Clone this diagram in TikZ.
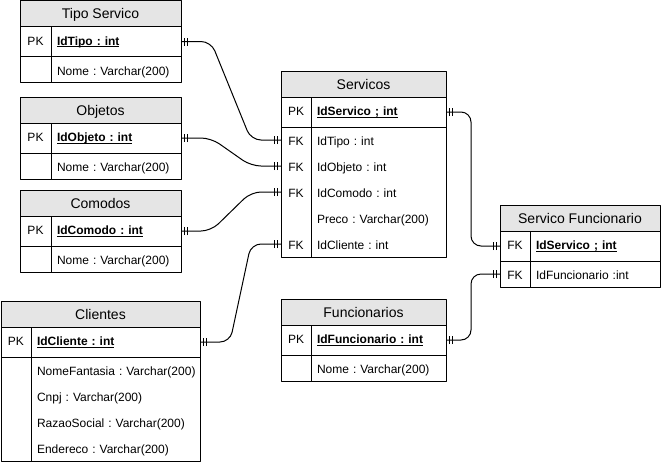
\documentclass[tikz,border=0pt]{standalone}
\usepackage{fontspec}
\setmainfont{Liberation Sans}
\usetikzlibrary{decorations.markings}
\newsavebox\keybox
\newcommand\keyfield[1]{\sbox\keybox{\bfseries #1}\rlap{\rule[-1.8pt]{\wd\keybox}{0.8pt}}\usebox\keybox}
\frenchspacing
\begin{document}
\begin{tikzpicture}[x=1pt,y=-1pt,line width=1pt,line join=round,
font=\fontsize{12}{14}\selectfont,
every node/.style={outer sep=0pt},
hdr/.style={draw,fill=gray!20,anchor=north west,minimum height=26pt,inner sep=0pt,
  font=\fontsize{14}{16}\selectfont,text height=10pt,text depth=0pt},
keyc/.style={anchor=north west,minimum width=#1,inner sep=0pt},
fldc/.style={anchor=north west,text width=#1,align=left,inner xsep=6pt,inner ysep=0pt},
pkrow/.style={minimum height=30pt,text height=8.5pt,text depth=1.5pt},
row/.style={minimum height=26pt,text height=11.5pt,text depth=0pt},
rel/.style={rounded corners=10pt,postaction={decorate,decoration={markings,
  mark=at position 3.5pt with {\draw[line width=1pt] (0,-4pt)--(0,4pt);},
  mark=at position 6.5pt with {\draw[line width=1pt] (0,-4pt)--(0,4pt);},
  mark=at position -3.5pt with {\draw[line width=1pt] (0,-4pt)--(0,4pt);},
  mark=at position -6.5pt with {\draw[line width=1pt] (0,-4pt)--(0,4pt);}}}}]
\useasboundingbox (0,0) rectangle (661,464);
% Tipo Servico
\node[hdr,minimum width=161pt] (tipo) at (20,0.5) {Tipo Servico};
\node[keyc=31pt,pkrow,draw] (tipo-k) at (tipo.south west) {PK};
\node[fldc=118pt,pkrow,draw] (tipo-id) at (tipo-k.north east) {\keyfield{IdTipo : int}};
\node[keyc=31pt,row,draw] (tipo-k2) at (tipo-k.south west) {};
\node[fldc=118pt,row,draw] (tipo-nome) at (tipo-k2.north east) {Nome : Varchar(200)};
% Objetos
\node[hdr,minimum width=161pt] (obj) at (20,97) {Objetos};
\node[keyc=31pt,pkrow,draw] (obj-k) at (obj.south west) {PK};
\node[fldc=118pt,pkrow,draw] (obj-id) at (obj-k.north east) {\keyfield{IdObjeto : int}};
\node[keyc=31pt,row,draw] (obj-k2) at (obj-k.south west) {};
\node[fldc=118pt,row,draw] (obj-nome) at (obj-k2.north east) {Nome : Varchar(200)};
% Comodos
\node[hdr,minimum width=161pt] (com) at (20,190) {Comodos};
\node[keyc=31pt,pkrow,draw] (com-k) at (com.south west) {PK};
\node[fldc=118pt,pkrow,draw] (com-id) at (com-k.north east) {\keyfield{IdComodo : int}};
\node[keyc=31pt,row,draw] (com-k2) at (com-k.south west) {};
\node[fldc=118pt,row,draw] (com-nome) at (com-k2.north east) {Nome : Varchar(200)};
% Clientes
\node[hdr,minimum width=199pt] (cli) at (1,301) {Clientes};
\node[keyc=30pt,pkrow,draw] (cli-k) at (cli.south west) {PK};
\node[fldc=157pt,pkrow,draw] (cli-id) at (cli-k.north east) {\keyfield{IdCliente : int}};
\node[keyc=30pt,row] (cli-k2) at (cli-k.south west) {};
\node[fldc=157pt,row] (cli-nome) at (cli-k2.north east) {\mbox{NomeFantasia : Varchar(200)}};
\node[keyc=30pt,row] (cli-k3) at (cli-k2.south west) {};
\node[fldc=157pt,row] (cli-cnpj) at (cli-k3.north east) {Cnpj : Varchar(200)};
\node[keyc=30pt,row] (cli-k4) at (cli-k3.south west) {};
\node[fldc=157pt,row] (cli-razao) at (cli-k4.north east) {RazaoSocial : Varchar(200)};
\node[keyc=30pt,row] (cli-k5) at (cli-k4.south west) {};
\node[fldc=157pt,row] (cli-end) at (cli-k5.north east) {Endereco : Varchar(200)};
\draw (cli-k2.north west) rectangle (cli-end.south east);
\draw (cli-k2.north east) -- (cli-k5.south east);
% Servicos
\node[hdr,minimum width=165pt] (serv) at (281,71) {Servicos};
\node[keyc=30pt,pkrow,draw] (serv-k) at (serv.south west) {PK};
\node[fldc=123pt,pkrow,draw] (serv-id) at (serv-k.north east) {\keyfield{IdServico ; int}};
\node[keyc=30pt,row] (serv-fk1) at (serv-k.south west) {FK};
\node[fldc=123pt,row] (serv-tipo) at (serv-fk1.north east) {IdTipo : int};
\node[keyc=30pt,row] (serv-fk2) at (serv-fk1.south west) {FK};
\node[fldc=123pt,row] (serv-obj) at (serv-fk2.north east) {IdObjeto : int};
\node[keyc=30pt,row] (serv-fk3) at (serv-fk2.south west) {FK};
\node[fldc=123pt,row] (serv-com) at (serv-fk3.north east) {IdComodo : int};
\node[keyc=30pt,row] (serv-k4) at (serv-fk3.south west) {};
\node[fldc=123pt,row] (serv-preco) at (serv-k4.north east) {Preco : Varchar(200)};
\node[keyc=30pt,row] (serv-fk5) at (serv-k4.south west) {FK};
\node[fldc=123pt,row] (serv-cli) at (serv-fk5.north east) {IdCliente : int};
\draw (serv-fk1.north west) rectangle (serv-cli.south east);
\draw (serv-fk1.north east) -- (serv-fk5.south east);
% Funcionarios
\node[hdr,minimum width=165pt] (func) at (281,299) {Funcionarios};
\node[keyc=30pt,pkrow,draw] (func-k) at (func.south west) {PK};
\node[fldc=123pt,pkrow,draw] (func-id) at (func-k.north east) {\keyfield{IdFuncionario : int}};
\node[keyc=30pt,row,draw] (func-k2) at (func-k.south west) {};
\node[fldc=123pt,row,draw] (func-nome) at (func-k2.north east) {Nome : Varchar(200)};
% Servico Funcionario
\node[hdr,minimum width=160pt] (sf) at (500,205) {Servico Funcionario};
\node[keyc=30pt,pkrow,draw] (sf-fk1) at (sf.south west) {FK};
\node[fldc=118pt,pkrow,draw] (sf-serv) at (sf-fk1.north east) {\keyfield{IdServico ; int}};
\node[keyc=30pt,row,draw] (sf-fk2) at (sf-fk1.south west) {FK};
\node[fldc=118pt,row,draw] (sf-func) at (sf-fk2.north east) {IdFuncionario :int};
% relations
\draw[rel] (tipo-id.east) -- ++(30,0) -- ([xshift=-30pt]serv-fk1.west) -- (serv-fk1.west);
\draw[rel] (obj-id.east) -- ++(30,0) -- ([xshift=-30pt]serv-fk2.west) -- (serv-fk2.west);
\draw[rel] (com-id.east) -- ++(30,0) -- ([xshift=-30pt]serv-fk3.west) -- (serv-fk3.west);
\draw[rel] (cli-id.east) -- ++(30,0) -- ([xshift=-30pt]serv-fk5.west) -- (serv-fk5.west);
\draw[rel] (serv-id.east) -- ++(25,0) |- (sf-fk1.west);
\draw[rel] (func-id.east) -- ++(25,0) |- (sf-fk2.west);
\end{tikzpicture}
\end{document}
